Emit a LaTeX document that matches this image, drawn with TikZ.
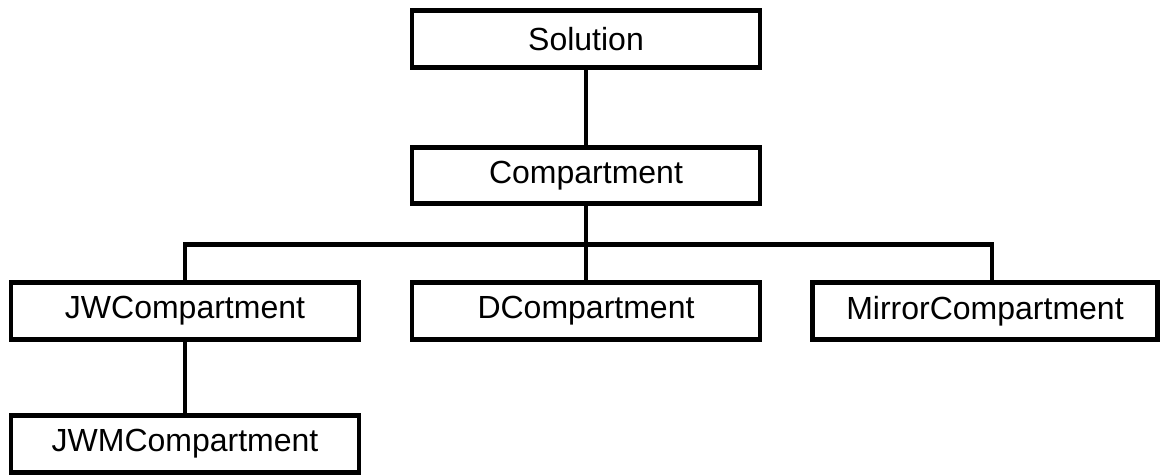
\documentclass[tikz,border=0pt]{standalone}
\usepackage{fontspec}
\setmainfont{Liberation Sans}
\usepackage{tikz}

\begin{document}
\begin{tikzpicture}[x=1pt,y=-1pt]
\tikzset{cls/.style = {shape=rectangle,draw,line width=4.8pt,minimum width=348pt,minimum height=56.5pt,inner sep=0pt,font=\fontsize{32}{38}\selectfont}}
\tikzset{edge/.style = {line width=4.6pt,line join=miter}}
\useasboundingbox (0,0) rectangle (1163,476);
\node[cls] (sol) at (586,39) {Solution};
\node[cls] (comp) at (586,175.5) {Compartment};
\node[cls] (jw) at (185,311) {JWCompartment};
\node[cls] (d) at (586,311) {DCompartment};
\node[cls,minimum width=345pt] (mirror) at (985,311) {MirrorCompartment};
\node[cls] (jwm) at (185,444) {JWMCompartment};
\coordinate (bus) at (586,244.5);
\draw[edge] (sol) -- (comp);
\draw[edge] (comp) -- (d);
\draw[edge] (jw.north) |- (bus) -| ([xshift=7pt]mirror.north);
\draw[edge] (jw) -- (jwm);
\end{tikzpicture}
\end{document}
